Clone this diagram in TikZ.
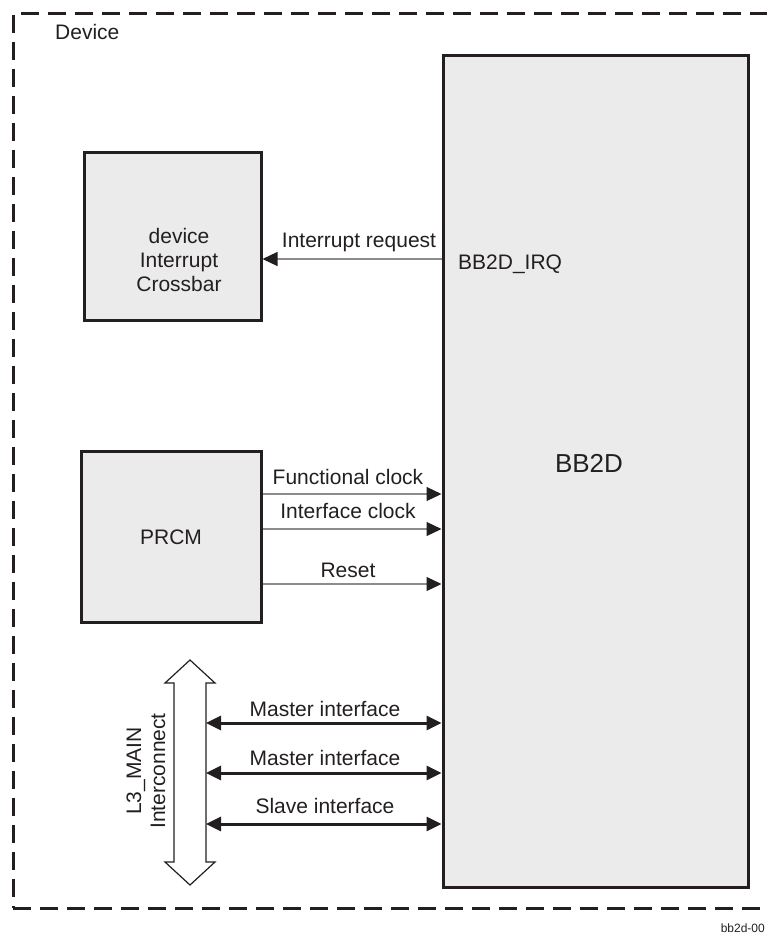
\documentclass[tikz,border=0pt]{standalone}
\usepackage{fontspec}
\setmainfont{Liberation Sans}
\usetikzlibrary{arrows.meta}
\definecolor{ink}{HTML}{231F20}
\definecolor{boxfill}{HTML}{EBEBEB}
\definecolor{wire}{HTML}{8C8C8C}
\begin{document}
\begin{tikzpicture}[x=1pt,y=-1pt,
  lbl/.style={font=\fontsize{21}{24}\selectfont, text=ink, inner sep=0pt},
  blk/.style={draw=ink, fill=boxfill, line width=3pt, inner sep=0pt},
  frame/.style={draw=ink, dash pattern=on 18pt off 9pt, line width=2.5pt, inner sep=0pt},
  sig/.style={draw=wire, line width=1.1pt, -{Triangle[length=15pt,width=14pt,color=ink]}},
  bus/.style={draw=ink, line width=3pt, {Triangle[length=15pt,width=14pt]}-{Triangle[length=15pt,width=14pt]}},
  busarrow/.style={draw=ink, fill=white, line width=1.2pt, line join=miter},
]
\useasboundingbox (0,0) rectangle (767,935);
\clip (0,0) rectangle (767,935);

% frame and blocks
\node[frame, minimum width=766.7pt, minimum height=895pt] (device) at (396.65,460.8) {};
\node[blk, minimum width=305pt, minimum height=832pt] (bb2d) at (595.5,471) {};
\node[blk, minimum width=177pt, minimum height=168pt] (xbar) at (172.5,236) {};
\node[blk, minimum width=180.5pt, minimum height=171.5pt] (prcm) at (171.25,536.75) {};

% L3 interconnect double arrow
\draw[busarrow] (190,660) -- (215,683) -- (206,683) -- (206,862) -- (215,862)
  -- (190,885) -- (165,862) -- (174,862) -- (174,683) -- (165,683) -- cycle;
\node[minimum width=32pt, minimum height=179pt, inner sep=0pt, outer sep=0pt] (l3) at (190,772.5) {};

% signal rows
\coordinate (irq) at (0,259);
\coordinate (fc) at (0,494);
\coordinate (ic) at (0,529);
\coordinate (rs) at (0,584);
\coordinate (m1) at (0,723);
\coordinate (m2) at (0,773);
\coordinate (sl) at (0,824);

\draw[sig] (bb2d.west |- irq) -- (xbar.east |- irq);
\draw[sig] (prcm.east |- fc) -- (bb2d.west |- fc);
\draw[sig] (prcm.east |- ic) -- (bb2d.west |- ic);
\draw[sig] (prcm.east |- rs) -- (bb2d.west |- rs);
\draw[bus] (l3.east |- m1) -- (bb2d.west |- m1);
\draw[bus] (l3.east |- m2) -- (bb2d.west |- m2);
\draw[bus] (l3.east |- sl) -- (bb2d.west |- sl);

% labels
\node[lbl, anchor=base west] (devlbl) at (55,39) {Device};
\node[lbl, align=center] (xbarlbl) at (179,259.5) {device\\Interrupt\\Crossbar};
\node[lbl, anchor=base] (prcmlbl) at (171,544) {PRCM};
\node[lbl, anchor=base] (bb2dlbl) at (589,472) {\fontsize{26}{30}\selectfont BB2D};
\node[lbl, anchor=base west] (irqpin) at (458,269) {BB2D\_IRQ};
\node[lbl, anchor=base] (irqlbl) at (359,247) {Interrupt request};
\node[lbl, anchor=base] (fclbl) at (348,484) {Functional clock};
\node[lbl, anchor=base] (iclbl) at (348,518) {Interface clock};
\node[lbl, anchor=base] (rslbl) at (348,577) {Reset};
\node[lbl, anchor=base] (m1lbl) at (325,716) {Master interface};
\node[lbl, anchor=base] (m2lbl) at (325,765) {Master interface};
\node[lbl, anchor=base] (sllbl) at (325,813) {Slave interface};
\node[lbl, align=center, rotate=90] (l3lbl) at (146,771) {L3\_MAIN\\Interconnect};
\node[font=\fontsize{12}{14}\selectfont, text=ink, inner sep=0pt, anchor=base east] (figid) at (765,932) {bb2d-00};
\end{tikzpicture}
\end{document}
